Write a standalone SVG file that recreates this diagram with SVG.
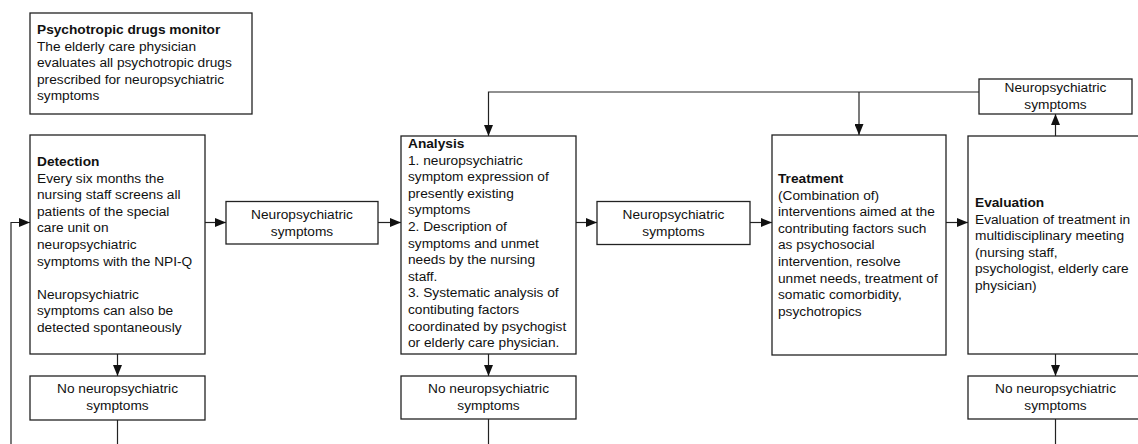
<svg xmlns="http://www.w3.org/2000/svg" width="1138" height="444" viewBox="0 0 1138 444">
<style>
rect.b{fill:#fff;stroke:#222;stroke-width:1.3}
text{font-family:"Liberation Sans",Arial,sans-serif;font-size:13.7px;fill:#111}
.t{font-weight:bold}
.c{text-anchor:middle}
.l{fill:none;stroke:#222;stroke-width:1.2}
</style>
<defs>
<marker id="ah" markerUnits="userSpaceOnUse" markerWidth="11" markerHeight="9" refX="11" refY="4.5" orient="auto">
<path d="M0,0 L11,4.5 L0,9 z" fill="#111"/>
</marker>
</defs>
<g id="connectors">
<path class="l" d="M11,444 V222.5 H30" marker-end="url(#ah)"/>
<path class="l" d="M205,222.5 H226" marker-end="url(#ah)"/>
<path class="l" d="M378,222.5 H401" marker-end="url(#ah)"/>
<path class="l" d="M576,222.5 H597" marker-end="url(#ah)"/>
<path class="l" d="M750,222.5 H772" marker-end="url(#ah)"/>
<path class="l" d="M946,222.5 H968" marker-end="url(#ah)"/>
<path class="l" d="M1055.5,136 V114" marker-end="url(#ah)"/>
<path class="l" d="M979,92 H488.5 V136" marker-end="url(#ah)"/>
<path class="l" d="M859,92 V135" marker-end="url(#ah)"/>
<path class="l" d="M117.5,354 V376" marker-end="url(#ah)"/>
<path class="l" d="M117.5,420 V444"/>
<path class="l" d="M488.5,354 V376" marker-end="url(#ah)"/>
<path class="l" d="M488.5,419 V444"/>
<path class="l" d="M1055.5,354 V376" marker-end="url(#ah)"/>
<path class="l" d="M1055.5,419 V444"/>
</g>
<g id="monitor">
<rect class="b" x="30" y="13" width="222" height="101"/>
<text x="37" y="34" class="t">Psychotropic drugs monitor</text>
<text x="37" y="50.6">The elderly care physician</text>
<text x="37" y="67.2">evaluates all psychotropic drugs</text>
<text x="37" y="83.8">prescribed for neuropsychiatric</text>
<text x="37" y="100.4">symptoms</text>
</g>
<g id="detection">
<rect class="b" x="30" y="135" width="175" height="219"/>
<text x="37" y="166" class="t">Detection</text>
<text x="37" y="182.6">Every six months the</text>
<text x="37" y="199.2">nursing staff screens all</text>
<text x="37" y="215.8">patients of the special</text>
<text x="37" y="232.4">care unit on</text>
<text x="37" y="249">neuropsychiatric</text>
<text x="37" y="265.6">symptoms with the NPI-Q</text>
<text x="37" y="298.8">Neuropsychiatric</text>
<text x="37" y="315.4">symptoms can also be</text>
<text x="37" y="332">detected spontaneously</text>
</g>
<g id="nps1">
<rect class="b" x="226" y="201.5" width="152" height="42.5"/>
<text x="302" y="219" class="c">Neuropsychiatric</text>
<text x="302" y="235.5" class="c">symptoms</text>
</g>
<g id="nonps1">
<rect class="b" x="30" y="376" width="175" height="44"/>
<text x="117.5" y="393" class="c">No neuropsychiatric</text>
<text x="117.5" y="409.5" class="c">symptoms</text>
</g>
<g id="analysis">
<rect class="b" x="401" y="136" width="175" height="218"/>
<text x="408" y="148" class="t">Analysis</text>
<text x="408" y="164.6">1. neuropsychiatric</text>
<text x="408" y="181.2">symptom expression of</text>
<text x="408" y="197.8">presently existing</text>
<text x="408" y="214.4">symptoms</text>
<text x="408" y="231">2. Description of</text>
<text x="408" y="247.6">symptoms and unmet</text>
<text x="408" y="264.2">needs by the nursing</text>
<text x="408" y="280.8">staff.</text>
<text x="408" y="297.4">3. Systematic analysis of</text>
<text x="408" y="314">contibuting factors</text>
<text x="408" y="330.6">coordinated by psychogist</text>
<text x="408" y="347.2">or elderly care physician.</text>
</g>
<g id="nps2">
<rect class="b" x="597" y="201.5" width="153" height="43"/>
<text x="673.5" y="219" class="c">Neuropsychiatric</text>
<text x="673.5" y="235.5" class="c">symptoms</text>
</g>
<g id="nonps2">
<rect class="b" x="401" y="376" width="175" height="43"/>
<text x="488.5" y="393" class="c">No neuropsychiatric</text>
<text x="488.5" y="409.5" class="c">symptoms</text>
</g>
<g id="treatment">
<rect class="b" x="772" y="135" width="174" height="220"/>
<text x="778" y="183" class="t">Treatment</text>
<text x="778" y="199.6">(Combination of)</text>
<text x="778" y="216.2">interventions aimed at the</text>
<text x="778" y="232.8">contributing factors such</text>
<text x="778" y="249.4">as psychosocial</text>
<text x="778" y="266">intervention, resolve</text>
<text x="778" y="282.6">unmet needs, treatment of</text>
<text x="778" y="299.2">somatic comorbidity,</text>
<text x="778" y="315.8">psychotropics</text>
</g>
<g id="evaluation">
<rect class="b" x="968" y="136" width="175" height="218"/>
<text x="975" y="207" class="t">Evaluation</text>
<text x="975" y="223.6">Evaluation of treatment in</text>
<text x="975" y="240.2">multidisciplinary meeting</text>
<text x="975" y="256.8">(nursing staff,</text>
<text x="975" y="273.4">psychologist, elderly care</text>
<text x="975" y="290">physician)</text>
</g>
<g id="nps3">
<rect class="b" x="979" y="79" width="153" height="35"/>
<text x="1055.5" y="92" class="c">Neuropsychiatric</text>
<text x="1055.5" y="108.5" class="c">symptoms</text>
</g>
<g id="nonps3">
<rect class="b" x="968" y="376" width="175" height="43"/>
<text x="1055.5" y="393" class="c">No neuropsychiatric</text>
<text x="1055.5" y="409.5" class="c">symptoms</text>
</g>
</svg>
